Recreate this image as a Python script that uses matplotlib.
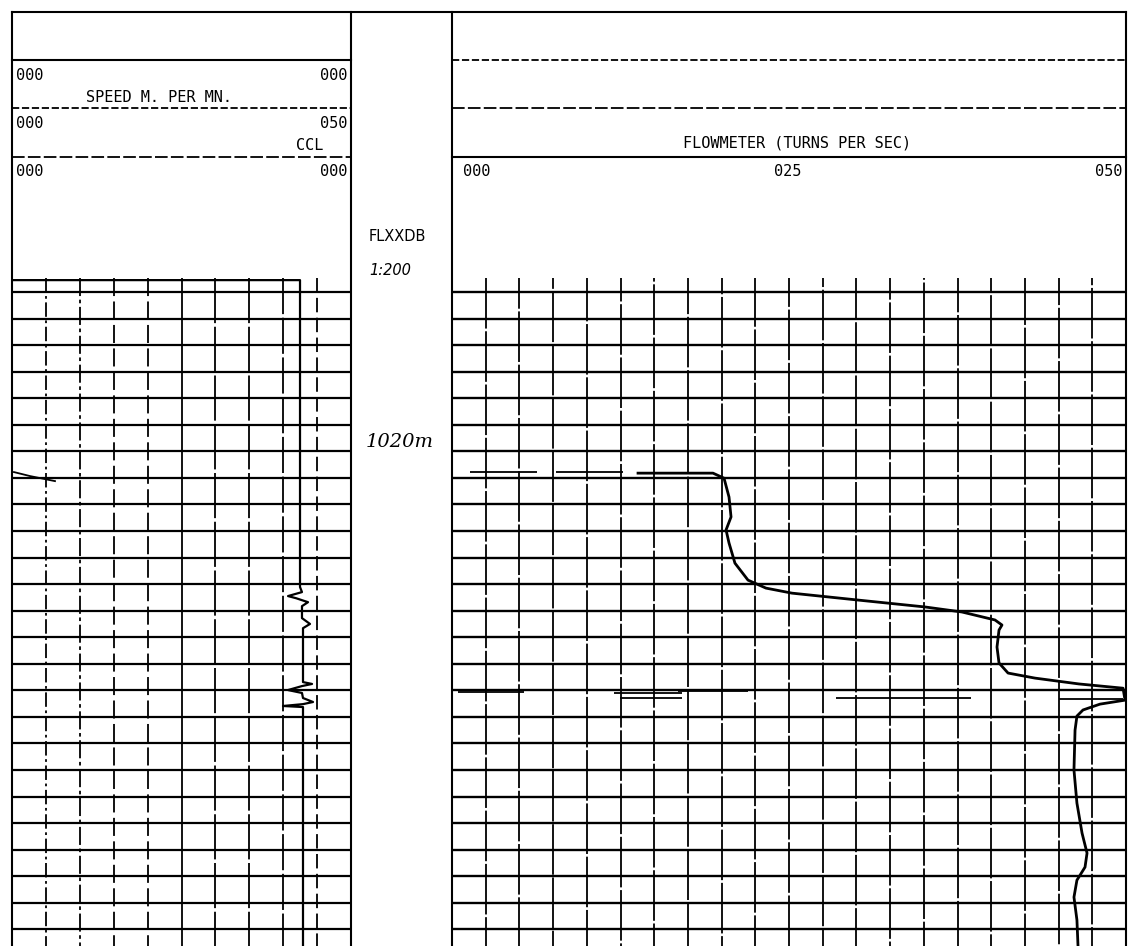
import matplotlib.pyplot as plt
import numpy as np

# page size in pixels, depth scale 1:200 -> one grid line per metre
W, H = 1131, 946

grid_depths = np.arange(1014, 1039)
top_depth = 1013.47
bottom_depth = 1038.63

# flowmeter trace (turns per sec, 0-50 scale)
flow_depth = [1020.82, 1020.82, 1021.01, 1021.72, 1022.47, 1022.96, 1023.45, 1024.21,
              1024.85, 1025.15, 1025.34, 1025.60, 1025.86, 1026.05, 1026.35, 1026.54,
              1026.73, 1027.37, 1027.97, 1028.35, 1028.54, 1028.76, 1028.92, 1029.37,
              1029.52, 1029.74, 1029.97, 1030.50, 1032.00, 1033.25, 1034.38, 1035.13,
              1035.66, 1036.15, 1036.79, 1037.65, 1038.63]
flow_turns = [13.80, 19.36, 20.18, 20.55, 20.70, 20.33, 20.55, 20.99,
              21.96, 23.29, 25.22, 30.12, 35.09, 37.83, 40.28, 40.80,
              40.58, 40.43, 40.58, 41.25, 43.25, 46.51, 49.78, 49.93,
              48.07, 46.81, 46.36, 46.22, 46.14, 46.36, 46.74, 47.11,
              46.96, 46.36, 46.14, 46.36, 46.44]

# short broken flowmeter strokes: start, end, depth
stroke_start = [1.34, 7.72, 0.45, 12.02, 12.46, 16.77, 28.49, 33.23, 45.03]
stroke_end = [6.31, 12.69, 5.34, 17.06, 17.06, 21.96, 38.50, 38.13, 49.78]
stroke_depth = [1020.78, 1020.78, 1029.07, 1029.10, 1029.29, 1029.03, 1029.29, 1028.99, 1029.33]

# CCL trace (0-50 scale)
ccl_depth = [1013.55, 1013.55, 1025.11, 1025.30, 1025.45, 1025.53, 1025.68, 1025.83,
             1026.28, 1026.50, 1026.66, 1028.69, 1028.76, 1028.84, 1028.99, 1029.10,
             1029.29, 1029.44, 1029.52, 1029.59, 1029.63, 1038.63]
ccl_value = [0.0, 42.48, 42.48, 42.77, 40.71, 41.89, 43.66, 42.77,
             42.77, 43.95, 42.92, 42.92, 44.25, 42.77, 40.71, 42.77,
             42.92, 44.40, 42.92, 39.97, 42.92, 42.92]

# speed trace fragment
speed_depth = [1020.78, 1020.93, 1021.12]
speed_value = [0.29, 2.65, 6.34]

mono = 'DejaVu Sans Mono'


def track_axes(fig, x0, x1, y0, y1):
    ax = fig.add_axes([x0 / W, 1 - y1 / H, (x1 - x0) / W, (y1 - y0) / H])
    ax.set_xlim(0, 50)
    ax.set_ylim(bottom_depth, top_depth)
    ax.axis('off')
    return ax


fig = plt.figure(figsize=(W / 100, H / 100), dpi=100)
fig.patch.set_facecolor('white')

# frame and header, drawn in page pixels
frame = fig.add_axes([0, 0, 1, 1])
frame.set_xlim(0, W)
frame.set_ylim(H, 0)
frame.axis('off')

lw = 1.5
frame.plot([12, 1126], [12, 12], color='black', lw=lw)
for x in [12, 351, 452, 1126]:
    frame.plot([x, x], [12, H], color='black', lw=lw)
frame.plot([12, 351], [60, 60], color='black', lw=lw)
frame.plot([12, 351], [108, 108], color='black', lw=1.3, ls=(0, (4, 1.5)))
frame.plot([12, 351], [157, 157], color='black', lw=1.3, ls=(0, (7, 1.8)))
frame.plot([452, 1126], [60, 60], color='black', lw=1.3, ls=(0, (4, 1.5)))
frame.plot([452, 1126], [108, 108], color='black', lw=1.3, ls=(0, (7, 1.8)))
frame.plot([452, 1126], [157, 157], color='black', lw=lw)

fs = 11
frame.text(16, 75, '000', family=mono, fontsize=fs, va='center', ha='left')
frame.text(347, 75, '000', family=mono, fontsize=fs, va='center', ha='right')
frame.text(86, 97, 'SPEED M. PER MN.', family=mono, fontsize=fs, va='center', ha='left')
frame.text(16, 123, '000', family=mono, fontsize=fs, va='center', ha='left')
frame.text(347, 123, '050', family=mono, fontsize=fs, va='center', ha='right')
frame.text(323, 146, 'CCL', family=mono, fontsize=fs, va='center', ha='right')
frame.text(16, 171, '000', family=mono, fontsize=fs, va='center', ha='left')
frame.text(347, 171, '000', family=mono, fontsize=fs, va='center', ha='right')

frame.text(797, 143, 'FLOWMETER (TURNS PER SEC)', family=mono, fontsize=fs, va='center', ha='center')
frame.text(463, 171, '000', family=mono, fontsize=fs, va='center', ha='left')
frame.text(788, 171, '025', family=mono, fontsize=fs, va='center', ha='center')
frame.text(1122, 171, '050', family=mono, fontsize=fs, va='center', ha='right')

frame.text(369, 236, 'FLXXDB', fontsize=10.5, va='center', ha='left')
frame.text(369, 270, '1:200', fontsize=10.5, style='italic', va='center', ha='left')
frame.text(366, 442, '1020m', fontsize=14, style='italic', family='DejaVu Serif',
           va='center', ha='left')

# left track: speed / CCL, 10 divisions
left = track_axes(fig, 12, 351, 278, H)
left.hlines(grid_depths, 0, 50, color='black', lw=1.6)
left_styles = [(0, (8, 2, 1.5, 2)), (0, (10, 2, 2, 2)), (0, (10, 3)), (0, (10, 3)), '-',
               (0, (25, 2)), (0, (25, 2)), (0, (20, 2)), (0, (8, 3))]
for x, ls in zip(np.arange(5, 50, 5), left_styles):
    left.plot([x, x], [top_depth, bottom_depth], color='black', lw=1.3, ls=ls)
left.plot(ccl_value, ccl_depth, color='black', lw=1.6)
left.plot(speed_value, speed_depth, color='black', lw=1.3)

# right track: flowmeter, 20 divisions (broken plotter lines, staggered gaps)
right = track_axes(fig, 452, 1126, 278, H)
right.hlines(grid_depths, 0, 50, color='black', lw=1.7)
for k, x in enumerate(np.arange(2.5, 50, 2.5)):
    right.plot([x, x], [top_depth, bottom_depth], color='black', lw=1.3,
               ls=((k * 11) % 29, (28, 1.5)))
right.hlines(stroke_depth, stroke_start, stroke_end, color='black', lw=1.3)
right.plot(flow_turns, flow_depth, color='black', lw=2.0)

fig.savefig('out.png', dpi=100, facecolor='white')
